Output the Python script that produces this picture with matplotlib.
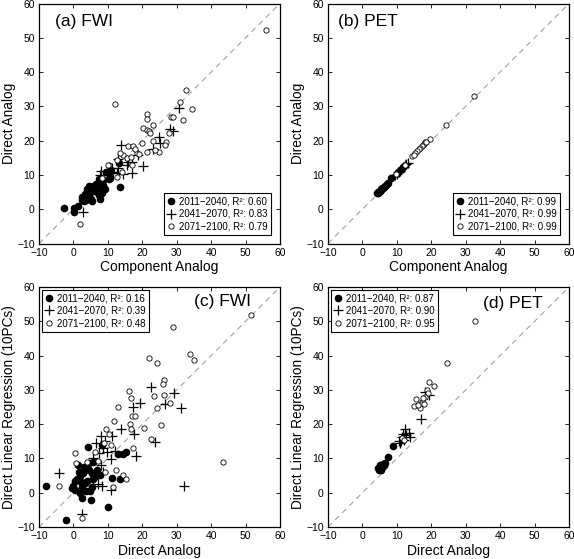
import matplotlib
matplotlib.use("Agg")
import matplotlib.pyplot as plt
import numpy as np

plt.rcParams['font.family'] = ['Liberation Sans', 'DejaVu Sans']

periods = ["2011\u22122040", "2041\u22122070", "2071\u22122100"]
ticks = [-10, 0, 10, 20, 30, 40, 50, 60]

# (a) FWI: component analog (x) vs direct analog (y)
a_p1 = [(-2.7, 0.5), (0.3, 0.3), (0.3, -0.7), (1.4, 0.8), (2.9, 3.1), (2.5, 2.6), (3.2, 2.3),
        (3.8, 3.6), (3.3, 4.5), (4.2, 5.2), (4.0, 6.0), (4.6, 4.2), (5.0, 3.0), (5.5, 2.4),
        (5.7, 6.7), (6.1, 6.7), (6.5, 7.5), (7.0, 6.9), (7.7, 2.9), (7.3, 4.2), (8.4, 4.8),
        (8.0, 5.8), (8.7, 7.2), (9.1, 6.0), (8.5, 8.5), (10.6, 9.1), (10.2, 8.7), (13.5, 6.4),
        (13.2, 13.5), (11.0, 11.2), (5.0, 5.5), (3.6, 2.8), (6.8, 5.0), (7.5, 8.8), (9.5, 11.0),
        (2.5, 3.5), (4.5, 6.8), (6.0, 5.2)]
a_p2 = [(2.9, -0.7), (30.7, 29.5), (29.0, 22.8), (24.8, 21.2), (25.1, 19.2), (23.0, 17.5),
        (20.3, 12.7), (18.8, 15.9), (13.8, 18.8), (15.9, 13.9), (15.5, 12.8), (16.9, 10.6),
        (14.3, 10.3), (12.9, 14.6), (12.6, 10.6), (11.2, 12.0), (7.9, 11.1), (7.8, 9.9),
        (8.7, 9.2), (11.5, 11.0), (13.0, 12.0), (10.0, 10.3), (28.0, 23.5), (17.0, 13.7)]
a_p3 = [(56.0, 52.2), (32.6, 34.9), (31.0, 31.3), (34.5, 29.3), (31.9, 26.0), (12.2, 30.8),
        (21.5, 27.7), (21.5, 26.4), (28.2, 26.9), (28.8, 27.0), (1.9, -4.3), (23.2, 24.5),
        (20.3, 23.6), (21.3, 23.2), (22.0, 22.7), (22.3, 22.2), (27.8, 22.3), (27.0, 19.7),
        (26.5, 18.6), (24.9, 16.6), (23.7, 17.3), (23.0, 19.9), (21.4, 16.8), (19.9, 19.4),
        (18.4, 16.3), (15.9, 18.5), (17.2, 18.3), (14.5, 15.8), (15.7, 14.8), (13.6, 16.3),
        (12.6, 14.4), (17.1, 12.8), (10.3, 12.8), (9.9, 13.0), (8.2, 9.1), (14.2, 11.0),
        (12.8, 9.4), (16.7, 15.1), (18.0, 17.5), (19.0, 16.0)]
a_r2 = ["0.60", "0.83", "0.79"]

# (b) PET: component analog (x) vs direct analog (y)
b_p1 = [(4.2, 4.6), (4.5, 4.9), (4.8, 5.1), (5.0, 5.3), (5.3, 5.6), (5.5, 5.8), (5.8, 6.1),
        (6.0, 6.3), (6.3, 6.6), (6.6, 6.9), (7.0, 7.4), (7.4, 7.7), (4.4, 4.8), (5.1, 5.4),
        (8.3, 9.0)]
b_p2 = [(9.6, 10.1), (10.0, 10.4), (10.3, 10.8), (10.6, 11.0), (11.0, 11.4), (11.3, 11.7),
        (11.6, 12.1), (12.0, 12.4), (12.3, 12.8), (12.7, 13.3), (10.8, 11.2), (11.8, 12.2),
        (13.1, 13.5)]
b_p3 = [(32.3, 32.9), (24.3, 24.6), (19.7, 20.6), (18.3, 19.6), (18.0, 19.1), (17.6, 18.7),
        (17.2, 18.3), (16.8, 17.9), (16.3, 17.5), (15.8, 17.0), (15.3, 16.3), (14.4, 15.5),
        (14.9, 15.8), (12.5, 13.0), (9.8, 10.4), (18.6, 19.5)]
b_r2 = ["0.99", "0.99", "0.99"]

# (c) FWI: direct analog (x) vs direct linear regression (y)
c_p1 = [(-7.9, 1.9), (-2.1, -8.1), (9.9, -4.3), (5.1, -2.1), (4.2, 13.2), (8.2, 13.8),
        (15.3, 11.8), (14.5, 11.3), (13.0, 11.3), (13.5, 3.9), (11.1, 4.2), (1.4, 8.2),
        (1.0, 4.1), (-0.5, 1.3), (0.5, 0.7), (2.0, 0.0), (2.4, -1.4), (3.7, 0.5), (5.4, 1.6),
        (4.9, 0.4), (5.8, 3.9), (6.8, 6.6), (7.8, 5.3), (5.4, 5.8), (4.4, 6.7), (2.9, 5.8),
        (1.9, 4.8), (0.5, 3.3), (0.0, 1.9), (3.4, 2.9), (2.4, 1.7), (5.8, 8.9), (4.6, 8.7),
        (3.0, 7.5), (1.5, 6.0), (4.0, 3.5), (6.5, 4.8), (2.2, 3.0)]
c_p2 = [(-4.1, 5.8), (22.5, 30.9), (19.3, 26.1), (17.2, 25.1), (29.2, 29.2), (31.2, 24.6),
        (26.5, 26.0), (17.7, 17.2), (13.7, 18.5), (11.1, 16.6), (7.9, 16.4), (6.6, 14.5),
        (9.2, 15.0), (9.7, 11.9), (12.2, 12.2), (10.8, 9.7), (18.2, 10.6), (23.7, 14.8),
        (5.8, 10.1), (8.0, 8.0), (7.0, 2.6), (5.6, 2.1), (8.2, 1.9), (10.9, 0.8), (2.4, -6.3),
        (32.2, 2.1), (8.7, 6.0), (7.5, 11.5), (8.5, 13.0)]
c_p3 = [(51.5, 51.7), (29.0, 48.3), (33.8, 40.6), (35.0, 38.8), (22.0, 39.4), (24.2, 37.7),
        (26.4, 33.0), (26.1, 31.7), (23.5, 28.3), (26.4, 28.5), (28.0, 26.3), (24.2, 24.6),
        (25.3, 19.8), (22.4, 15.7), (20.6, 19.0), (16.2, 29.8), (16.6, 27.7), (13.0, 24.9),
        (16.9, 22.4), (17.9, 22.3), (11.8, 21.0), (16.3, 20.0), (16.6, 18.6), (17.2, 12.9),
        (43.3, 8.9), (14.5, 5.3), (15.3, 4.0), (12.4, 6.5), (11.4, 1.7), (0.5, 11.6),
        (0.8, 8.7), (2.4, -7.5), (-4.2, 1.9), (9.6, 18.6), (9.3, 6.0), (6.3, 12.0),
        (10.2, 17.0), (9.0, 14.5), (11.0, 14.0), (4.0, 9.0), (7.0, 9.2)]
c_r2 = ["0.16", "0.39", "0.48"]

# (d) PET: direct analog (x) vs direct linear regression (y)
d_p1 = [(8.8, 13.6), (7.4, 10.3), (4.4, 7.1), (5.1, 7.6), (5.9, 8.5), (6.5, 8.7), (4.8, 6.6),
        (5.5, 6.6), (6.0, 7.8), (5.2, 8.0), (6.3, 8.2), (5.0, 7.2)]
d_p2 = [(17.0, 21.6), (12.4, 18.5), (13.4, 17.4), (11.4, 16.3), (11.0, 14.4), (12.2, 15.5),
        (13.7, 16.3), (19.2, 28.4), (18.2, 29.4), (11.8, 17.0), (12.8, 16.9), (11.2, 15.2),
        (10.7, 15.0)]
d_p3 = [(32.8, 50.1), (24.6, 37.9), (19.2, 32.3), (20.7, 31.1), (18.7, 30.0), (19.0, 29.2),
        (18.2, 28.0), (17.3, 26.6), (17.0, 25.8), (15.5, 27.3), (15.0, 25.2), (16.7, 24.6),
        (17.5, 27.5), (18.0, 26.0), (11.5, 16.0), (12.0, 15.3), (16.1, 25.6)]
d_r2 = ["0.87", "0.90", "0.95"]

panels = [
    ("(a) FWI", [a_p1, a_p2, a_p3], a_r2, "Component Analog", "Direct Analog", "lower right", (0.065, 0.925)),
    ("(b) PET", [b_p1, b_p2, b_p3], b_r2, "Component Analog", "Direct Analog", "lower right", (0.04, 0.925)),
    ("(c) FWI", [c_p1, c_p2, c_p3], c_r2, "Direct Analog", "Direct Linear Regression (10PCs)", "upper left", (0.645, 0.94)),
    ("(d) PET", [d_p1, d_p2, d_p3], d_r2, "Direct Analog", "Direct Linear Regression (10PCs)", "upper left", (0.645, 0.93)),
]

fig = plt.figure(figsize=(5.74, 5.59), dpi=100)
W, H = 574, 559
boxes = [(39, 3.5), (328, 3.5), (39, 287), (328, 287)]
aw, ah = 241, 240

styles = [dict(marker="o", color="black", markersize=4.5, linestyle="none"),
          dict(marker="+", color="black", markersize=6.5, markeredgewidth=0.9, linestyle="none"),
          dict(marker="o", markerfacecolor="white", markeredgecolor="black", markersize=3.8,
               markeredgewidth=0.6, linestyle="none")]

for (title, series, r2, xlab, ylab, loc, tpos), (bx, by) in zip(panels, boxes):
    ax = fig.add_axes([bx / W, 1 - (by + ah) / H, aw / W, ah / H])
    ax.plot([-10, 60], [-10, 60], linestyle=(0, (5, 4)), color="#a0a0a0", linewidth=0.8)
    handles = []
    for pts, st, per, r in zip(series, styles, periods, r2):
        pts = np.array(pts)
        h, = ax.plot(pts[:, 0], pts[:, 1], label=f"{per}, R\u00b2: {r}", **st)
        handles.append(h)
    ax.set_xlim(-10, 60)
    ax.set_ylim(-10, 60)
    ax.set_xticks(ticks)
    ax.set_yticks(ticks)
    ax.set_xticklabels([str(t).replace("-", "\u2212") for t in ticks])
    ax.set_yticklabels([str(t).replace("-", "\u2212") for t in ticks])
    ax.tick_params(direction="in", length=3, width=0.6, labelsize=7.5, top=True, right=True, pad=3)
    for s in ax.spines.values():
        s.set_linewidth(0.9)
    ax.set_xlabel(xlab, fontsize=10, labelpad=2)
    ax.set_ylabel(ylab, fontsize=9.8, labelpad=1)
    ax.text(tpos[0], tpos[1], title, transform=ax.transAxes, fontsize=12.5, va="center", ha="left")
    leg = ax.legend(handles=handles, loc=loc, fontsize=7, frameon=True, fancybox=False,
                    edgecolor="black", framealpha=1, handlelength=0.8, handletextpad=0.4,
                    borderpad=0.35, labelspacing=0.25, borderaxespad=0.9 if loc == "lower right" else 0.3)
    leg.get_frame().set_linewidth(0.8)

fig.savefig("out.png", dpi=100)
